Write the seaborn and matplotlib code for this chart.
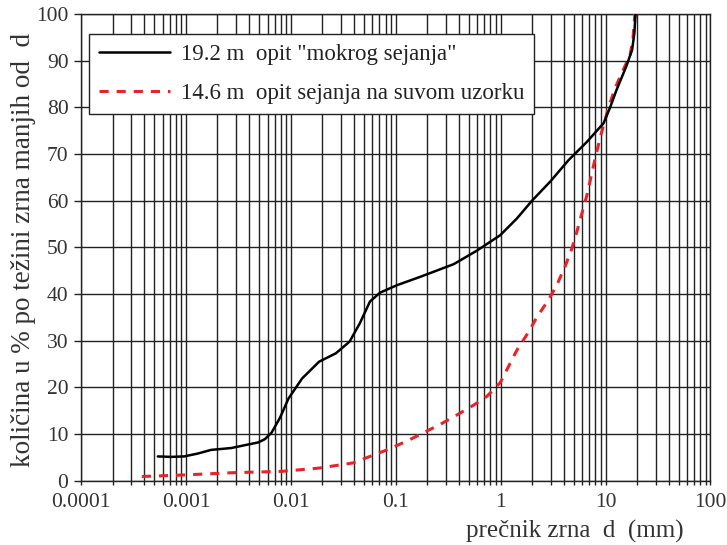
import matplotlib
matplotlib.use("Agg")
import matplotlib.pyplot as plt
from matplotlib.ticker import LogLocator, FixedLocator, NullFormatter
import seaborn as sns
import pandas as pd

# Grain-size distribution curves (d in mm, percent finer by weight)
wet_d = [0.00054, 0.00072, 0.00096, 0.00129, 0.00174, 0.00271, 0.00363, 0.00489,
         0.00566, 0.00656, 0.00789, 0.0095, 0.0128, 0.0186, 0.0269, 0.0363,
         0.0454, 0.0568, 0.0710, 0.103, 0.172, 0.357, 0.594, 0.99, 1.43, 1.99,
         2.97, 4.44, 6.64, 9.57, 11.1, 12.7, 15.7, 17.9, 18.8, 19.3]
wet_p = [5.2, 5.1, 5.2, 5.8, 6.6, 7.0, 7.6, 8.2,
         8.9, 10.3, 13.5, 17.6, 21.9, 25.5, 27.3, 29.8,
         33.7, 38.4, 40.3, 41.9, 43.7, 46.4, 49.3, 52.6, 56.2, 60.0,
         64.1, 68.7, 72.6, 76.6, 80.1, 83.7, 88.7, 92.3, 95.9, 100.0]

dry_d = [0.00038, 0.00090, 0.00271, 0.0082, 0.0186, 0.0391, 0.0824, 0.128,
         0.185, 0.267, 0.384, 0.553, 0.741, 0.99, 1.43, 1.85, 2.22, 2.87,
         3.44, 4.13, 4.78, 5.33, 5.95, 6.64, 7.15, 7.98, 8.77, 9.57, 10.7,
         12.3, 14.7, 17.1, 18.2, 19.0]
dry_p = [0.9, 1.2, 1.7, 2.0, 2.7, 3.8, 6.6, 8.5,
         10.3, 12.1, 14.1, 16.2, 18.1, 21.0, 28.0, 31.9, 35.1, 38.8,
         42.0, 46.0, 49.8, 53.4, 57.3, 61.2, 64.4, 69.2, 73.0, 76.2, 80.1,
         84.1, 88.0, 91.2, 94.4, 100.0]

wet_label = '19.2 m  opit "mokrog sejanja"'
dry_label = "14.6 m  opit sejanja na suvom uzorku"

x_ticks = [0.0001, 0.001, 0.01, 0.1, 1, 10, 100]
x_tick_labels = ["0.0001", "0.001", "0.01", "0.1", "1", "10", "100"]
y_ticks = list(range(0, 101, 10))

sns.set_style("white")
plt.rcParams["font.family"] = ["Liberation Serif", "DejaVu Serif"]

fig = plt.figure(figsize=(7.27, 5.45), dpi=100)
ax = fig.add_axes([0.1114, 0.118, 0.8659, 0.8563])

wet = pd.DataFrame({"d": wet_d, "p": wet_p})
dry = pd.DataFrame({"d": dry_d, "p": dry_p})

sns.lineplot(data=wet, x="d", y="p", ax=ax, sort=False, estimator=None,
             color="black", lw=1.8, label=wet_label, zorder=4)
sns.lineplot(data=dry, x="d", y="p", ax=ax, sort=False, estimator=None,
             color="#e8242a", lw=2.2, label=dry_label, zorder=3)
ax.lines[-1].set_linestyle((0, (3.0, 2.6)))

ax.set_xscale("log")
ax.set_xlim(0.0001, 100)
ax.set_ylim(0, 100)

ax.xaxis.set_major_locator(FixedLocator(x_ticks))
ax.set_xticklabels(x_tick_labels)
ax.xaxis.set_minor_locator(LogLocator(base=10, subs=range(2, 10), numticks=20))
ax.xaxis.set_minor_formatter(NullFormatter())
ax.set_yticks(y_ticks)

grid_kw = dict(color="#222222", lw=1.0)
ax.grid(True, which="major", axis="both", **grid_kw)
ax.grid(True, which="minor", axis="x", **grid_kw)
ax.set_axisbelow(True)

for s in ax.spines.values():
    s.set_color("#222222")
    s.set_linewidth(1.0)
    s.set_visible(True)

ax.tick_params(axis="y", which="major", direction="out", length=5, width=1,
               color="#222222", labelsize=15.5, pad=4, left=True)
ax.tick_params(axis="x", which="major", direction="out", length=3, width=1,
               color="#222222", labelsize=15.5, pad=6, bottom=True)
ax.tick_params(axis="x", which="minor", direction="out", length=3, width=1,
               color="#222222", bottom=True)
for lab in ax.get_xticklabels() + ax.get_yticklabels():
    lab.set_color("#333333")

ax.set_xlabel("prečnik zrna  d  (mm)", fontsize=18, color="#333333")
ax.xaxis.set_label_coords(0.785, -0.084)
ax.set_ylabel("količina u % po težini zrna manjih od  d", fontsize=19.5,
              color="#333333")
ax.yaxis.set_label_coords(-0.072, 0.495)

leg = ax.legend(loc="upper left", bbox_to_anchor=(0.0127, 0.957),
                borderaxespad=0, fancybox=False, framealpha=1,
                edgecolor="#222222", fontsize=16.5, handlelength=3.1,
                handletextpad=0.5, labelspacing=0.8, borderpad=0.42)
leg.get_frame().set_linewidth(1.0)
for t in leg.get_texts():
    t.set_color("#222222")

fig.savefig("out.png", dpi=100)
